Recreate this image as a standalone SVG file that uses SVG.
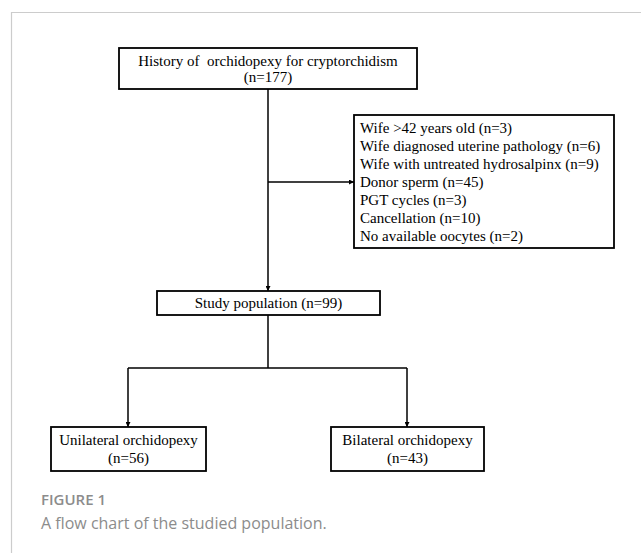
<svg xmlns="http://www.w3.org/2000/svg" width="641" height="553" viewBox="0 0 641 553">
<style>
.box{fill:#fff;stroke:#000;stroke-width:1.8}
.t{font-family:"Liberation Serif","Times New Roman",serif;font-size:15px;fill:#000;white-space:pre}
.c{text-anchor:middle}
.con{fill:none;stroke:#000;stroke-width:1.5}
.frame{fill:none;stroke:#cccccc;stroke-width:1.2}
.fig{font-family:"Open Sans","Noto Sans",sans-serif;font-size:15px;font-weight:600;fill:#8c8c8c}
.cap{font-family:"Open Sans","Noto Sans",sans-serif;font-size:16px;fill:#8c8c8c}
</style>
<defs>
<marker id="ah" viewBox="0 0 10 10" refX="10" refY="5" markerWidth="5" markerHeight="5" orient="auto" markerUnits="userSpaceOnUse">
<path d="M0,0 L10,5 L0,10 z" fill="#000"/>
</marker>
</defs>
<rect width="641" height="553" fill="#fff"/>
<path class="frame" d="M11.5,553 V12.5 H641"/>
<g id="connectors">
<line class="con" x1="268" y1="89" x2="268" y2="291" marker-end="url(#ah)"/>
<line class="con" x1="268" y1="182" x2="354" y2="182" marker-end="url(#ah)"/>
<line class="con" x1="268" y1="315" x2="268" y2="368"/>
<polyline class="con" points="128,368 407,368"/>
<line class="con" x1="128" y1="368" x2="128" y2="427" marker-end="url(#ah)"/>
<line class="con" x1="407" y1="368" x2="407" y2="427" marker-end="url(#ah)"/>
</g>
<g id="history">
<rect class="box" x="119" y="48" width="298" height="41"/>
<text class="t c" x="268" y="66" xml:space="preserve">History of  orchidopexy for cryptorchidism</text>
<text class="t c" x="268" y="82">(n=177)</text>
</g>
<g id="exclusions">
<rect class="box" x="354" y="115" width="260" height="133"/>
<text class="t" x="360" y="132.5">Wife &gt;42 years old (n=3)</text>
<text class="t" x="360" y="150.6">Wife diagnosed uterine pathology (n=6)</text>
<text class="t" x="360" y="168.7">Wife with untreated hydrosalpinx (n=9)</text>
<text class="t" x="360" y="186.8">Donor sperm (n=45)</text>
<text class="t" x="360" y="204.9">PGT cycles (n=3)</text>
<text class="t" x="360" y="223">Cancellation (n=10)</text>
<text class="t" x="360" y="241.1">No available oocytes (n=2)</text>
</g>
<g id="study">
<rect class="box" x="157" y="291" width="223" height="24"/>
<text class="t c" x="268.5" y="308">Study population (n=99)</text>
</g>
<g id="unilateral">
<rect class="box" x="51" y="427" width="155" height="44"/>
<text class="t c" x="128.5" y="445">Unilateral orchidopexy</text>
<text class="t c" x="128.5" y="463">(n=56)</text>
</g>
<g id="bilateral">
<rect class="box" x="331" y="427" width="153" height="44"/>
<text class="t c" x="407.5" y="445">Bilateral orchidopexy</text>
<text class="t c" x="407.5" y="463">(n=43)</text>
</g>
<text class="fig" x="41" y="505">FIGURE 1</text>
<text class="cap" x="41" y="529">A flow chart of the studied population.</text>
</svg>
